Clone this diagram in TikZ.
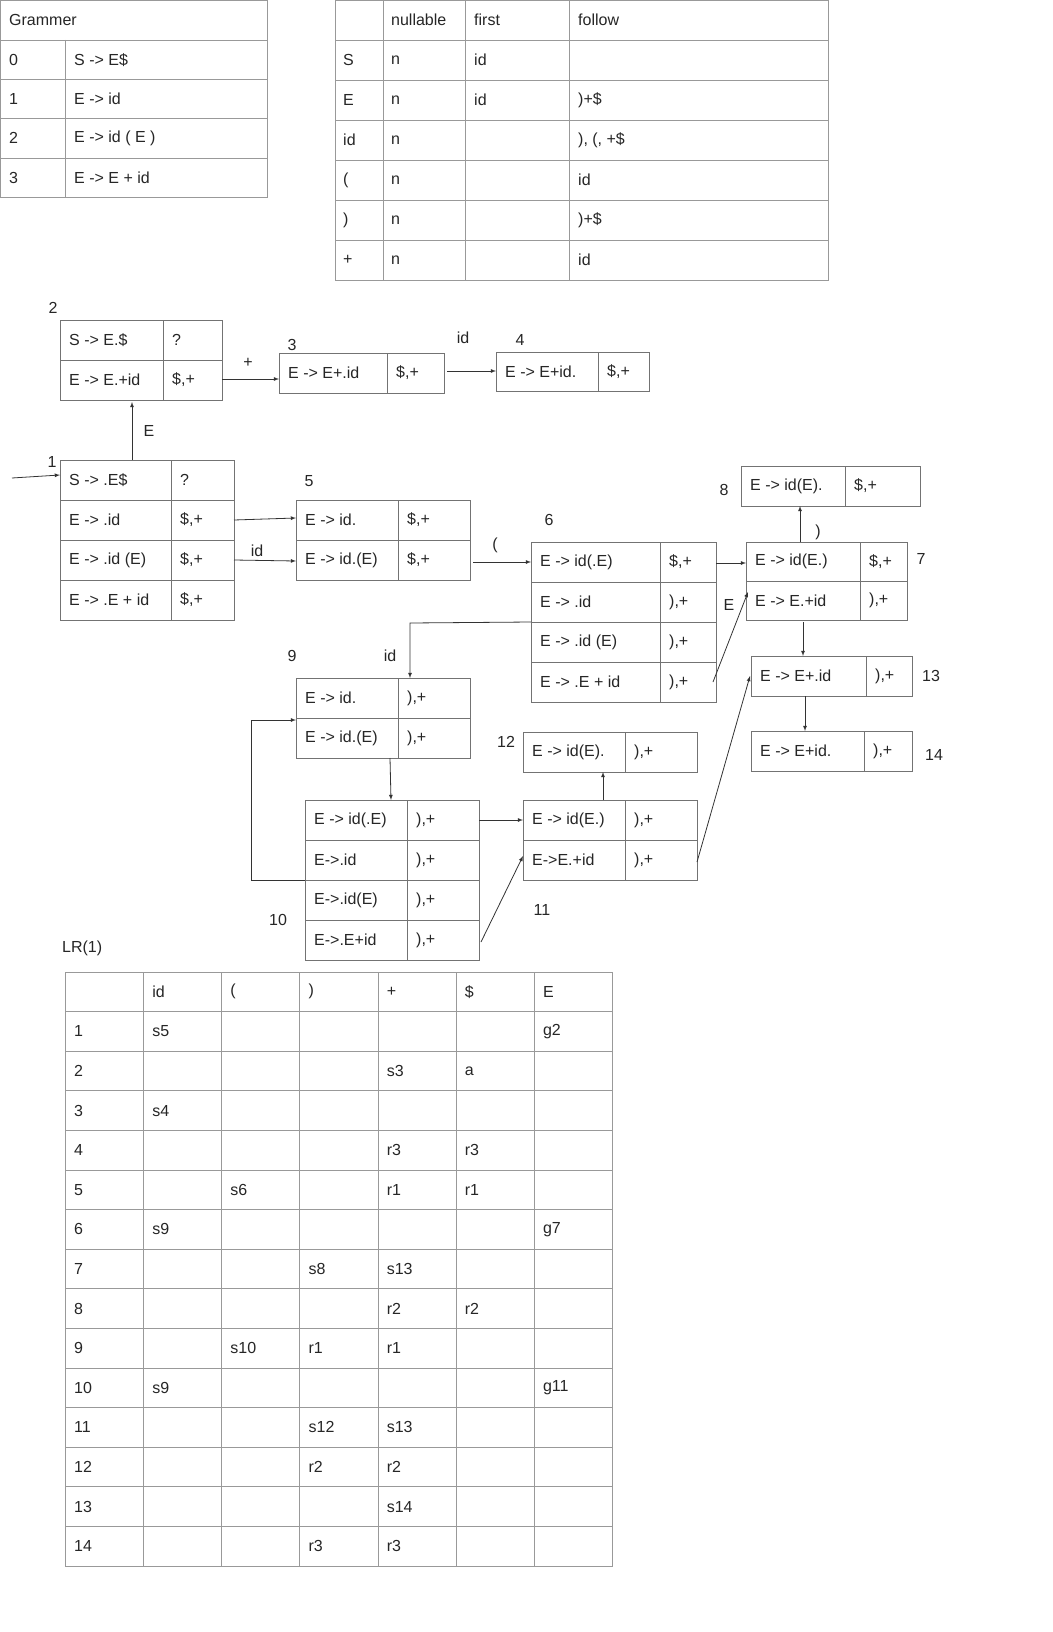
\documentclass[tikz,border=0pt]{standalone}
\usepackage{fontspec}
\setmainfont{Liberation Sans}
\newcommand\stb[7]{\draw[sbox] (#1,#4) rectangle (#3,#5); \draw[sbox] (#2,#4) -- (#2,#5);
 \node[txt] at (#1+9,{(#4+#5)/2}) {#6}; \node[txt] at (#2+9,{(#4+#5)/2}) {#7};}
\newcommand\lab[3]{\node[txt,anchor=center] at (#1,#2) {#3};}
\newcommand\lr[3]{\node[txt] at ({65+78.14*#1+9},{972+39.6*#2+19.8}) {#3};}
\begin{document}
\begin{tikzpicture}[x=1pt,y=-1pt,
  txt/.style={anchor=west,inner sep=0pt,font=\fontsize{16}{19}\selectfont,text=black!85},
  grid/.style={draw=black!40,line width=0.8pt},
  sbox/.style={draw=black!55,line width=0.8pt},
  arr/.style={-latex,line width=0.8pt,black!80}]
\fill[white] (0,0) rectangle (1052,1632);
% Grammar table
\draw[grid] (0,0) rectangle (267,197);
\foreach \y in {40,79,118,158} \draw[grid] (0,\y) -- (267,\y);
\draw[grid] (65,40) -- (65,197);
\node[txt] at (9,20) {Grammer};
\node[txt] at (9,60) {0}; \node[txt] at (74,60) {S -> E\$};
\node[txt] at (9,99) {1}; \node[txt] at (74,99) {E -> id};
\node[txt] at (9,138) {2}; \node[txt] at (74,138) {E -> id ( E )};
\node[txt] at (9,178) {3}; \node[txt] at (74,178) {E -> E + id};
% nullable table
\draw[grid] (335,0) rectangle (828,280);
\foreach \y in {40,80,...,240} \draw[grid] (335,\y) -- (828,\y);
\foreach \x in {383,465,569} \draw[grid] (\x,0) -- (\x,280);
\node[txt] at (391,20) {nullable}; \node[txt] at (474,20) {first}; \node[txt] at (578,20) {follow};
\node[txt] at (343,60) {S}; \node[txt] at (391,60) {n}; \node[txt] at (474,60) {id};
\node[txt] at (343,100) {E}; \node[txt] at (391,100) {n}; \node[txt] at (474,100) {id}; \node[txt] at (578,100) {)+\$};
\node[txt] at (343,140) {id}; \node[txt] at (391,140) {n}; \node[txt] at (578,140) {), (, +\$};
\node[txt] at (343,180) {(}; \node[txt] at (391,180) {n}; \node[txt] at (578,180) {id};
\node[txt] at (343,220) {)}; \node[txt] at (391,220) {n}; \node[txt] at (578,220) {)+\$};
\node[txt] at (343,260) {+}; \node[txt] at (391,260) {n}; \node[txt] at (578,260) {id};
% states
\stb{60}{163}{222}{320}{360}{S -> E.\$}{?}
\stb{60}{163}{222}{360}{400}{E -> E.+id}{\$,+}
\lab{53}{308}{2}
\stb{279}{387}{444}{353}{393}{E -> E+.id}{\$,+}
\lab{292}{345}{3}
\stb{496}{598}{649}{352}{391}{E -> E+id.}{\$,+}
\lab{520}{340}{4} \lab{463}{338}{id} \lab{248}{363}{+}
\draw[arr] (222,379) -- (279,379);
\draw[arr] (447,371) -- (496,371);
\draw[arr] (132,460) -- (132,402); \lab{149}{431}{E}
% state 1
\stb{60}{171}{234}{460}{500}{S -> .E\$}{?}
\stb{60}{171}{234}{500}{540}{E -> .id}{\$,+}
\stb{60}{171}{234}{540}{580}{E -> .id (E)}{\$,+}
\stb{60}{171}{234}{580}{620}{E -> .E + id}{\$,+}
\lab{52}{462}{1}
\draw[arr] (12,478) -- (60,475);
% state 5
\stb{296}{398}{470}{500}{540}{E -> id.}{\$,+}
\stb{296}{398}{470}{540}{580}{E -> id.(E)}{\$,+}
\lab{309}{481}{5}
\draw[arr] (234,520) -- (296,518);
\draw[arr] (234,560) -- (296,561); \lab{257}{551}{id}
% state 6
\stb{531}{660}{716}{542}{582}{E -> id(.E)}{\$,+}
\stb{531}{660}{716}{582}{622}{E -> .id}{),+}
\stb{531}{660}{716}{622}{662}{E -> .id (E)}{),+}
\stb{531}{660}{716}{662}{702}{E -> .E + id}{),+}
\lab{549}{520}{6}
\draw[arr] (473,562) -- (531,562); \lab{495}{545}{(}
% state 7
\stb{746}{860}{907}{542}{581}{E -> id(E.)}{\$,+}
\stb{746}{860}{907}{581}{620}{E -> E.+id}{),+}
\lab{921}{559}{7}
\draw[arr] (716,563) -- (746,563);
% state 8
\stb{741}{845}{920}{466}{506}{E -> id(E).}{\$,+}
\lab{724}{490}{8}
\draw[arr] (800,542) -- (800,506); \lab{818}{532}{)}
\draw[arr] (713,682) -- (748,592); \lab{729}{605}{E}
% 13, 14
\stb{751}{866}{912}{656}{696}{E -> E+.id}{),+}
\lab{931}{676}{13}
\draw[arr] (803,622) -- (803,656);
\stb{751}{864}{912}{731}{771}{E -> E+id.}{),+}
\lab{934}{755}{14}
\draw[arr] (805,696) -- (805,731);
% state 9
\stb{296}{398}{470}{678}{718}{E -> id.}{),+}
\stb{296}{398}{470}{718}{758}{E -> id.(E)}{),+}
\lab{292}{656}{9} \lab{390}{656}{id}
\draw[arr] (531,622) -- (410,623) -- (410,678);
% state 10
\stb{305}{407}{479}{800}{840}{E -> id(.E)}{),+}
\stb{305}{407}{479}{840}{880}{E->.id}{),+}
\stb{305}{407}{479}{880}{920}{E->.id(E)}{),+}
\stb{305}{407}{479}{920}{960}{E->.E+id}{),+}
\lab{278}{920}{10}
\draw[arr] (390,758) -- (391,800);
\draw[arr] (305,880) -- (251,880) -- (251,720) -- (296,720);
% 12, 11
\stb{523}{625}{697}{732}{772}{E -> id(E).}{),+}
\lab{506}{742}{12}
\stb{523}{625}{697}{800}{840}{E -> id(E.)}{),+}
\stb{523}{625}{697}{840}{880}{E->E.+id}{),+}
\lab{542}{910}{11}
\draw[arr] (479,820) -- (523,820);
\draw[arr] (603,800) -- (603,772);
\draw[arr] (697,862) -- (750,676);
\draw[arr] (481,942) -- (523,856);
% LR(1) table
\node[txt] at (62,948) {LR(1)};
\draw[grid] (65,972) rectangle (612,1566);
\foreach \i in {1,...,14} \draw[grid] (65,{972+39.6*\i}) -- (612,{972+39.6*\i});
\foreach \x in {143,221,299,378,456,534} \draw[grid] (\x,972) -- (\x,1566);
\lr{1}{0}{id}\lr{2}{0}{(}\lr{3}{0}{)}\lr{4}{0}{+}\lr{5}{0}{\$}\lr{6}{0}{E}
\foreach \r in {1,...,14} {\lr{0}{\r}{\r}}
\lr{1}{1}{s5}\lr{6}{1}{g2}
\lr{4}{2}{s3}\lr{5}{2}{a}
\lr{1}{3}{s4}
\lr{4}{4}{r3}\lr{5}{4}{r3}
\lr{2}{5}{s6}\lr{4}{5}{r1}\lr{5}{5}{r1}
\lr{1}{6}{s9}\lr{6}{6}{g7}
\lr{3}{7}{s8}\lr{4}{7}{s13}
\lr{4}{8}{r2}\lr{5}{8}{r2}
\lr{2}{9}{s10}\lr{3}{9}{r1}\lr{4}{9}{r1}
\lr{1}{10}{s9}\lr{6}{10}{g11}
\lr{3}{11}{s12}\lr{4}{11}{s13}
\lr{3}{12}{r2}\lr{4}{12}{r2}
\lr{4}{13}{s14}
\lr{3}{14}{r3}\lr{4}{14}{r3}
\pgfresetboundingbox
\useasboundingbox (0,0) rectangle (1052,1632);
\end{tikzpicture}
\end{document}
